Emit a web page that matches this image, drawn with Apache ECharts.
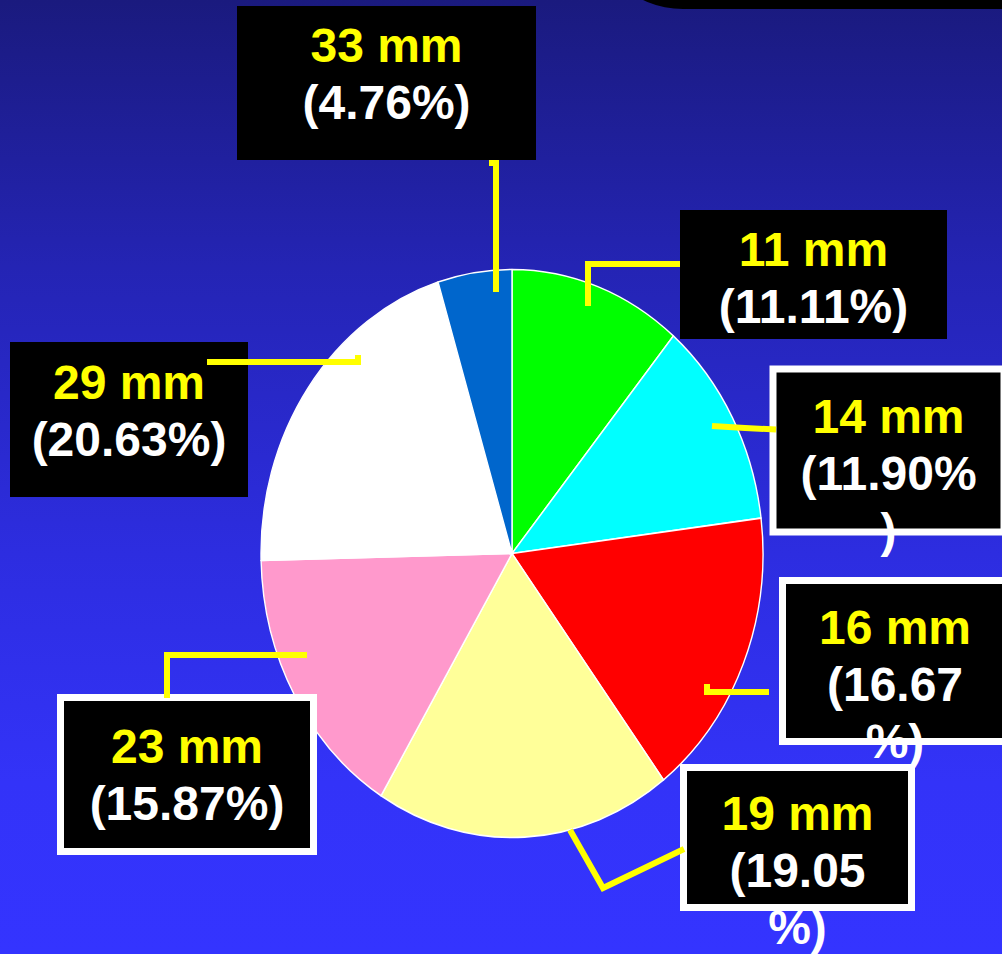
<!DOCTYPE html>
<html><head><meta charset="utf-8">
<script src="https://cdn.jsdelivr.net/npm/echarts@6/dist/echarts.min.js"></script>
<style>
html,body{margin:0;padding:0;width:1002px;height:954px;overflow:hidden;}
#stage{position:relative;width:1002px;height:954px;overflow:hidden;
  background:linear-gradient(180deg,#1a1a7e 0%,#2424b4 28%,#2d2de0 58%,#3333f8 82%,#3434ff 100%);}
#pie,#labels,#lines{position:absolute;left:0;top:0;width:1002px;height:954px;}
#pie{transform:scaleY(1.1315);transform-origin:512px 553.5px;}
</style></head>
<body><div id="stage"><div id="pie"></div><div id="labels"></div><div id="lines"></div></div>
<script>
// ---- data ----
const categories = ['11 mm', '14 mm', '16 mm', '19 mm', '23 mm', '29 mm', '33 mm'];
const percentages = [11.11, 11.90, 16.67, 19.05, 15.87, 20.63, 4.76];

// ---- styles / layout (not data) ----
const sliceColors = ['#00ff00', '#00ffff', '#ff0000', '#ffff99', '#ff99cc', '#ffffff', '#0066cc'];
// character index at which the percentage text wraps inside its box (null = no wrap)
const wrapAt = [null, 7, 6, 6, null, null, null];
// label boxes: centre x, top y, width, height, top padding, right padding, border width
const boxes = [
  {cx: 813.5, top: 210,   w: 267, h: 129, pad: 11,   padR: 0,  border: 0},
  {cx: 888.5, top: 372.5, w: 224, h: 156, pad: 15.5, padR: 0,  border: 7},
  {cx: 900,   top: 584,   w: 218, h: 154, pad: 14.5, padR: 10, border: 7},
  {cx: 797.5, top: 771,   w: 221, h: 133, pad: 14,   padR: 0,  border: 7},
  {cx: 187,   top: 701,   w: 246, h: 147, pad: 16.5, padR: 0,  border: 7},
  {cx: 129,   top: 342,   w: 238, h: 155, pad: 12,   padR: 0,  border: 0},
  {cx: 386.5, top: 6,     w: 299, h: 154, pad: 10.5, padR: 0,  border: 0}
];
const leaderLines = [
  [[588, 306], [588, 264], [680, 264]],
  [[712, 426], [745, 428], [776, 429.5]],
  [[707, 684], [707, 692], [769, 692]],
  [[570, 830], [603, 888], [684, 849]],
  [[307, 655], [167, 655], [167, 698]],
  [[358, 355], [358, 362], [207, 362]],
  [[496, 292], [496, 163], [489, 163]]
];
const PIE_CENTER = [512, 553.5];
const PIE_RADIUS = 251;

const pieData = categories.map((c, i) => ({
  name: c, value: percentages[i], itemStyle: {color: sliceColors[i]}
}));

const baseSeries = {
  type: 'pie',
  center: PIE_CENTER,
  radius: PIE_RADIUS,
  startAngle: 90,
  clockwise: true,
  silent: true,
  avoidLabelOverlap: false,
  emphasis: {disabled: true}
};

// ---- pie layer (stretched vertically to match the elliptical pie) ----
const pieChart = echarts.init(document.getElementById('pie'), null, {renderer: 'svg'});
pieChart.setOption({
  animation: false,
  series: [Object.assign({}, baseSeries, {
    label: {show: false},
    labelLine: {show: false},
    itemStyle: {borderColor: '#ffffff', borderWidth: 1.4},
    data: pieData
  })]
});

// ---- label layer ----
function labelText(i) {
  const pct = '(' + percentages[i].toFixed(2) + '%)';
  let body = '{b|' + pct + '}';
  if (wrapAt[i] != null) {
    body = '{b|' + pct.slice(0, wrapAt[i]) + '}\n{b|' + pct.slice(wrapAt[i]) + '}';
  }
  return '{a|' + categories[i] + '}\n' + body;
}

const labelData = categories.map((c, i) => {
  const b = boxes[i];
  return {
    name: c,
    value: percentages[i],
    itemStyle: {color: 'rgba(0,0,0,0)', borderWidth: 0},
    label: {
      width: b.w,
      height: b.h - b.pad,
      padding: [b.pad, b.padR, 0, 0],
      backgroundColor: '#000000',
      borderColor: '#ffffff',
      borderWidth: b.border
    }
  };
});

const fontBase = {fontFamily: '"Liberation Sans", Arial, sans-serif', fontWeight: 'bold', fontSize: 48, lineHeight: 57, align: 'center'};

const labelChart = echarts.init(document.getElementById('labels'), null, {renderer: 'svg'});
labelChart.setOption({
  animation: false,
  backgroundColor: 'transparent',
  graphic: [{
    type: 'rect',
    shape: {x: 590, y: -200, width: 520, height: 209, r: 93},
    style: {fill: '#000000'},
    silent: true
  }],
  series: [Object.assign({}, baseSeries, {
    label: {
      show: true,
      position: 'outside',
      align: 'center',
      formatter: (p) => labelText(p.dataIndex),
      rich: {
        a: Object.assign({color: '#ffff00'}, fontBase),
        b: Object.assign({color: '#ffffff'}, fontBase)
      }
    },
    labelLine: {show: false},
    labelLayout: (params) => {
      const b = boxes[params.dataIndex];
      return {x: b.cx, y: b.top, align: 'center', verticalAlign: 'top'};
    },
    data: labelData
  })]
});

// ---- leader-line layer (drawn above the label boxes) ----
const lineChart = echarts.init(document.getElementById('lines'), null, {renderer: 'svg'});
lineChart.setOption({
  animation: false,
  backgroundColor: 'transparent',
  series: [Object.assign({}, baseSeries, {
    itemStyle: {color: 'rgba(0,0,0,0)', borderWidth: 0},
    label: {
      show: true,
      position: 'outside',
      formatter: '{t|.}',
      rich: {t: {color: 'rgba(0,0,0,0)', fontSize: 10}}
    },
    labelLine: {
      show: true,
      smooth: false,
      lineStyle: {color: '#ffff00', width: 6, cap: 'butt', join: 'miter'}
    },
    labelLayout: (params) => {
      const b = boxes[params.dataIndex];
      return {
        x: b.cx, y: b.top, align: 'center', verticalAlign: 'top',
        labelLinePoints: leaderLines[params.dataIndex]
      };
    },
    data: categories.map((c, i) => ({name: c, value: percentages[i]}))
  })]
});
</script>
</body></html>
